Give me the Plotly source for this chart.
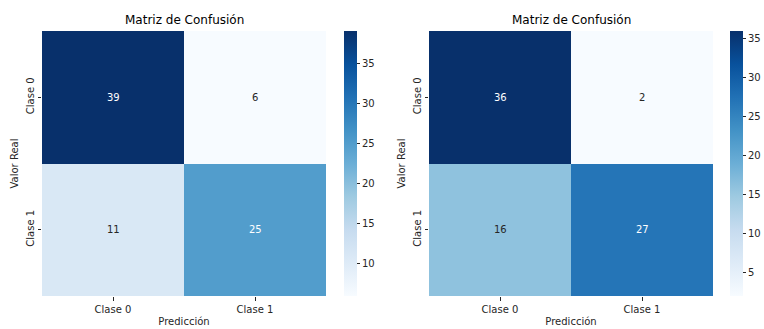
import plotly.graph_objects as go

# Confusion matrices for two classifiers
classes = ["Clase 0", "Clase 1"]
cm_left = [[39, 6], [11, 25]]
cm_right = [[36, 2], [16, 27]]
title_text = "Matriz de Confusión"
x_label = "Predicción"
y_label = "Valor Real"

# Matplotlib "Blues" colormap stops
blues = ["#f7fbff", "#deebf7", "#c6dbef", "#9ecae1", "#6baed6",
         "#4292c6", "#2171b5", "#08519c", "#08306b"]
colorscale = [[i / (len(blues) - 1), c] for i, c in enumerate(blues)]

W, H = 764, 329
FONT = "DejaVu Sans"
TXT = "#262626"


def hex_rgb(h):
    h = h.lstrip("#")
    return tuple(int(h[i:i + 2], 16) / 255 for i in (0, 2, 4))


def cmap(t):
    t = min(max(t, 0), 1)
    pos = t * (len(blues) - 1)
    i = min(int(pos), len(blues) - 2)
    f = pos - i
    a, b = hex_rgb(blues[i]), hex_rgb(blues[i + 1])
    return tuple(a[k] + (b[k] - a[k]) * f for k in range(3))


def luminance(rgb):
    def lin(c):
        return c / 12.92 if c <= 0.03928 else ((c + 0.055) / 1.055) ** 2.4
    r, g, b = (lin(c) for c in rgb)
    return 0.2126 * r + 0.7152 * g + 0.0722 * b


def px_x(p):
    return p / W


def px_y(p):
    return 1 - p / H


fig = go.Figure()

panels = [
    (cm_left, "x", "y", "coloraxis", 42, 326, 344),
    (cm_right, "x2", "y2", "coloraxis2", 429, 713, 730),
]

annotations = []
for idx, (z, xa, ya, ca, x0, x1, cbx) in enumerate(panels):
    fig.add_trace(go.Heatmap(
        z=z, x=classes, y=classes, xaxis=xa, yaxis=ya, coloraxis=ca,
        xgap=0, ygap=0, hoverinfo="z",
    ))
    flat = [v for row in z for v in row]
    vmin, vmax = min(flat), max(flat)
    for r, row in enumerate(z):
        for c, v in enumerate(row):
            rgb = cmap((v - vmin) / (vmax - vmin))
            color = TXT if luminance(rgb) > 0.408 else "white"
            annotations.append(dict(
                x=classes[c], y=classes[r], xref=xa, yref=ya, text=str(v),
                showarrow=False, font=dict(family=FONT, size=10, color=color),
            ))
    # panel title
    annotations.append(dict(
        x=px_x((x0 + x1) / 2), y=px_y(20), xref="paper", yref="paper",
        text=title_text, showarrow=False, xanchor="center", yanchor="middle",
        font=dict(family=FONT, size=12, color="black"),
    ))

    sfx = "" if idx == 0 else "2"
    axis_common = dict(
        showgrid=False, zeroline=False, showline=False,
        ticks="outside", ticklen=3.5, tickwidth=0.8, tickcolor=TXT,
        tickfont=dict(family=FONT, size=10, color=TXT),
    )
    fig.update_layout(**{
        "xaxis" + sfx: dict(
            domain=[px_x(x0), px_x(x1)], anchor="y" + sfx,
            title=dict(text=x_label, standoff=4,
                       font=dict(family=FONT, size=10, color=TXT)),
            **axis_common,
        ),
        "yaxis" + sfx: dict(
            domain=[px_y(296), px_y(31)], anchor="x" + sfx,
            autorange="reversed", tickangle=-90,
            title=dict(text=y_label, standoff=4,
                       font=dict(family=FONT, size=10, color=TXT)),
            **axis_common,
        ),
        ca: dict(
            colorscale=colorscale, cmin=vmin, cmax=vmax,
            colorbar=dict(
                x=px_x(cbx), xanchor="left", y=px_y(163.5), yanchor="middle",
                len=265 / H, lenmode="fraction",
                thickness=13, thicknessmode="pixels",
                outlinewidth=0, tick0=0, dtick=5,
                ticks="outside", ticklen=3.5, tickwidth=0.8, tickcolor=TXT,
                tickfont=dict(family=FONT, size=10, color=TXT),
                xpad=0, ypad=0,
            ),
        ),
    })

fig.update_layout(
    width=W, height=H,
    margin=dict(l=0, r=0, t=0, b=0),
    paper_bgcolor="white", plot_bgcolor="white",
    annotations=annotations,
    showlegend=False,
)

fig.write_html("out.html")
